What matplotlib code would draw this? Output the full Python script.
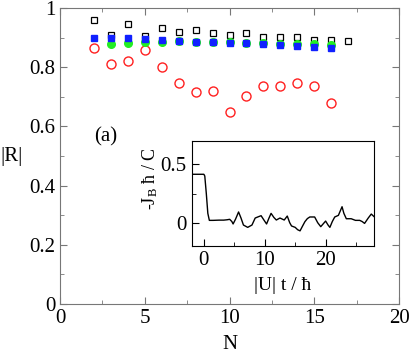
import matplotlib
matplotlib.use("Agg")
import matplotlib.pyplot as plt
from matplotlib.ticker import MultipleLocator, FormatStrFormatter

plt.rcParams["font.family"] = ["Liberation Serif", "DejaVu Serif"]
plt.rcParams["mathtext.fontset"] = "custom"
plt.rcParams["mathtext.rm"] = "Liberation Serif"
plt.rcParams["mathtext.it"] = "Liberation Serif:italic"

# main panel: |R| vs N
n_black = [2, 3, 4, 5, 6, 7, 8, 9, 10, 11, 12, 13, 14, 15, 16, 17]
r_black = [0.959, 0.910, 0.945, 0.906, 0.931, 0.918, 0.926, 0.917,
           0.910, 0.916, 0.902, 0.902, 0.902, 0.891, 0.893, 0.888]

n_blue = [2, 3, 4, 5, 6, 7, 8, 9, 10, 11, 12, 13, 14, 15, 16]
r_blue = [0.898, 0.899, 0.898, 0.896, 0.893, 0.890, 0.887, 0.885,
          0.883, 0.881, 0.880, 0.875, 0.872, 0.868, 0.866]

n_green = [3, 4, 5, 6, 7, 8, 9, 10, 11, 12, 13, 14, 15, 16]
r_green = [0.879, 0.882, 0.884, 0.887, 0.889, 0.886, 0.885, 0.884,
           0.883, 0.881, 0.880, 0.878, 0.877, 0.876]

n_red = [2, 3, 4, 5, 6, 7, 8, 9, 10, 11, 12, 13, 14, 15, 16]
r_red = [0.864, 0.811, 0.820, 0.858, 0.802, 0.746, 0.715, 0.721,
         0.648, 0.703, 0.736, 0.736, 0.746, 0.738, 0.680]

# inset: current vs time (traced)
t_in = [-2, 0.0, 0.15, 0.4, 0.65, 0.9, 1.5, 2.5, 3.26, 3.8, 4.24, 4.6, 4.8,
        5.2, 5.7, 6.1, 6.5, 7.2, 7.9, 8.43, 8.9, 9.4, 9.9, 10.3, 10.7,
        11.04, 11.5, 11.9, 12.5, 13.2, 13.7, 14.1, 14.4, 15.0, 15.4, 15.8,
        16.2, 16.6, 17.0, 17.4, 18.2, 18.7, 19.2, 19.6, 20.0, 20.4, 20.7,
        21.1, 21.5, 22.1, 22.4, 22.7, 23.0, 23.4, 24.2, 24.9, 25.6, 26.0,
        26.4, 27.0, 27.5, 28]
j_in = [0.415, 0.415, 0.40, 0.25, 0.08, 0.02, 0.02, 0.022, 0.022, 0.025,
        0.029, 0.01, -0.011, 0.03, 0.092, 0.04, -0.02, -0.04, -0.02, 0.04,
        0.05, 0.06, 0.02, -0.011, 0.04, 0.08, 0.045, 0.023, 0.04, 0.023,
        0.057, 0.0, -0.028, -0.04, -0.06, -0.07, -0.03, 0.009, 0.035, 0.049,
        0.049, 0.0, -0.034, -0.01, 0.014, -0.02, -0.04, 0.01, 0.049, 0.063,
        0.1, 0.137, 0.08, 0.034, 0.034, 0.02, 0.02, 0.01, -0.006, 0.04,
        0.074, 0.05]

fig = plt.figure(figsize=(4.09, 3.54), dpi=100)
ax = fig.add_axes([0.1467, 0.1412, 0.829, 0.836])

ax.plot(n_red, r_red, "o", ms=6.5, mfc="none", mec="#ff2020", mew=1.0, ls="none")
ax.plot(n_black, r_black, "s", ms=4.5, mfc="none", mec="black", mew=0.9, ls="none")
ax.plot(n_green, r_green, "o", ms=5.5, mfc="#22ee22", mec="#22ee22", ls="none")
ax.plot(n_blue, r_blue, "s", ms=4.5, mfc="#1020ff", mec="#1020ff", ls="none")

ax.set_xlim(0, 20)
ax.set_ylim(0, 1)
ax.xaxis.set_major_locator(MultipleLocator(5))
ax.xaxis.set_minor_locator(MultipleLocator(2.5))
ax.yaxis.set_major_locator(MultipleLocator(0.2))
ax.yaxis.set_minor_locator(MultipleLocator(0.1))
ax.yaxis.set_major_formatter(FormatStrFormatter("%g"))
ax.tick_params(which="both", direction="in", top=True, right=True,
               labelsize=15, color="#777777")
ax.tick_params(which="major", length=5)
ax.tick_params(which="minor", length=3)
for s in ax.spines.values():
    s.set_color("#777777")
ax.set_xlabel("N", fontsize=15, va="center")
ax.xaxis.set_label_coords(0.5, -0.138)
ax.set_ylabel("|R|", fontsize=15, rotation=0, ha="center", va="center")
ax.yaxis.set_label_coords(-0.142, 0.5)
ax.text(2.0, 0.565, "(a)", fontsize=15, va="center")

ins = fig.add_axes([0.4687, 0.305, 0.4465, 0.2966])
ins.plot(t_in, j_in, "-", color="black", lw=1.0)
ins.set_xlim(-2, 28)
ins.set_ylim(-0.2, 0.7)
ins.xaxis.set_major_locator(MultipleLocator(10))
ins.xaxis.set_minor_locator(MultipleLocator(5))
ins.yaxis.set_major_locator(MultipleLocator(0.5))
ins.yaxis.set_minor_locator(MultipleLocator(0.25))
ins.yaxis.set_major_formatter(FormatStrFormatter("%g"))
ins.tick_params(which="both", direction="in", labelsize=15)
ins.tick_params(which="major", length=5)
ins.tick_params(which="minor", length=3)
ins.set_xlabel("|U| t / ħ", fontsize=14, va="center")
ins.xaxis.set_label_coords(0.5, -0.38)
ins.set_ylabel(r"-J$_\mathrm{B}$ ħ / C", fontsize=13, va="center")
ins.yaxis.set_label_coords(-0.228, 0.64)

fig.savefig("out.png", dpi=100)
